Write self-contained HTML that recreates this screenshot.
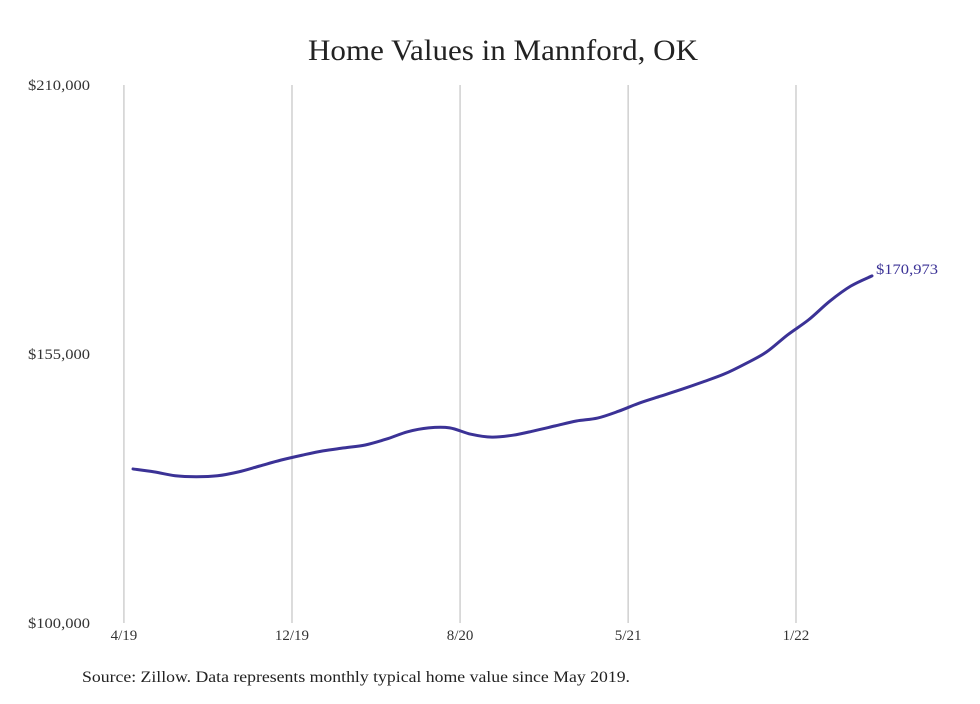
<!DOCTYPE html>
<html><head><meta charset="utf-8"><style>
body{margin:0;background:#fff;}
svg text{font-family:"Liberation Serif",serif;}
</style></head><body>
<svg id="chart" width="980" height="699" xmlns="http://www.w3.org/2000/svg">
<rect width="980" height="699" fill="#fff"/>
<text x="503" y="60" text-anchor="middle" font-size="30" textLength="390" lengthAdjust="spacingAndGlyphs" fill="#222">Home Values in Mannford, OK</text>
<g id="grid"></g><g id="yaxis"></g><g id="xaxis"></g><g id="series"></g>
<text x="82" y="682" font-size="16" textLength="548" lengthAdjust="spacingAndGlyphs" fill="#222">Source: Zillow. Data represents monthly typical home value since May 2019.</text>
</svg>
<script>
const values = [131.5,130.9,130.1,129.9,130.1,130.9,132.1,133.3,134.3,135.2,135.8,136.4,137.6,139.1,139.9,139.9,138.6,138.0,138.4,139.3,140.3,141.3,141.9,143.3,145.0,146.4,147.8,149.3,150.9,153.0,155.4,158.9,162.0,165.8,168.9,170.973];
const yTicks = [100,155,210];
const yTickLabels = ["$100,000","$155,000","$210,000"];
const xTickIdx = [-0.43,7.53,15.49,23.45,31.4];
const xTickLabels = ["4/19","12/19","8/20","5/21","1/22"];
const endLabel = "$170,973";

const NS="http://www.w3.org/2000/svg";
const x0=133, x1=872, yTop=85, yBot=623, vMin=100, vMax=210;
const xs=i=>x0+(x1-x0)*i/(values.length-1);
const ys=v=>yBot-(v-vMin)/(vMax-vMin)*(yBot-yTop);
function mk(tag,attrs,parent){const e=document.createElementNS(NS,tag);for(const k in attrs)e.setAttribute(k,attrs[k]);parent.appendChild(e);return e;}
const grid=document.getElementById('grid'),ya=document.getElementById('yaxis'),xa=document.getElementById('xaxis'),se=document.getElementById('series');
xTickIdx.forEach((t,i)=>{
  const x=xs(t);
  const l=mk('line',{x1:x,x2:x,y1:yTop,y2:yBot,stroke:'#c4c4c4','stroke-width':1.2},grid);
  
  
  const tx=mk('text',{x:x,y:yBot+17,'text-anchor':'middle','font-size':15,fill:'#333'},xa);
  tx.textContent=xTickLabels[i];
  
  
});
yTicks.forEach((v,i)=>{
  const tx=mk('text',{x:28,y:ys(v)+5,'font-size':15,textLength:62,lengthAdjust:'spacingAndGlyphs',fill:'#333'},ya);
  tx.textContent=yTickLabels[i];
  
  
});
const pts=values.map((v,i)=>[xs(i),ys(v)]);
let d='M'+pts[0][0]+','+pts[0][1];
for(let i=1;i<pts.length;i++){
  const p0=pts[Math.max(0,i-2)],p1=pts[i-1],p2=pts[i],p3=pts[Math.min(pts.length-1,i+1)];
  const c1x=p1[0]+(p2[0]-p0[0])/6,c1y=p1[1]+(p2[1]-p0[1])/6,c2x=p2[0]-(p3[0]-p1[0])/6,c2y=p2[1]-(p3[1]-p1[1])/6;
  d+=` C${c1x},${c1y} ${c2x},${c2y} ${p2[0]},${p2[1]}`;
}
const path=mk('path',{d:d,fill:'none',stroke:'#3b3296','stroke-width':3,'stroke-linecap':'round'},se);


const last=pts[pts.length-1];
const el=mk('text',{x:last[0]+4,y:last[1]-2,'font-size':15,textLength:62,lengthAdjust:'spacingAndGlyphs',fill:'#3b3296'},se);
el.textContent=endLabel;


</script>
</body></html>
